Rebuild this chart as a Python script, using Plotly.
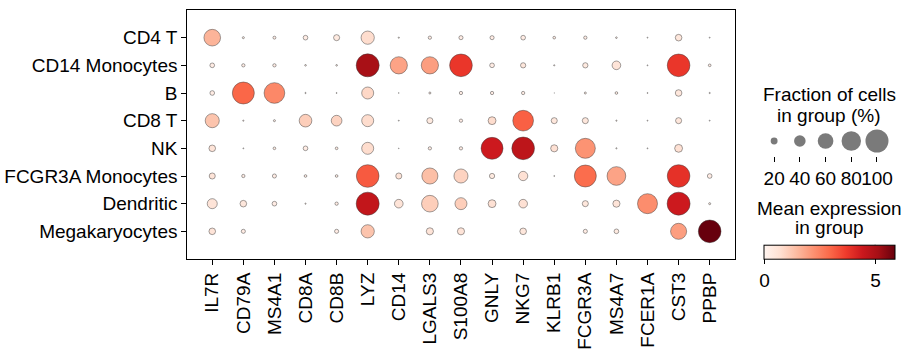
import plotly.graph_objects as go

groups = ["CD4 T", "CD14 Monocytes", "B", "CD8 T", "NK",
          "FCGR3A Monocytes", "Dendritic", "Megakaryocytes"]
genes = ["IL7R", "CD79A", "MS4A1", "CD8A", "CD8B", "LYZ", "CD14", "LGALS3",
         "S100A8", "GNLY", "NKG7", "KLRB1", "FCGR3A", "MS4A7", "FCER1A", "CST3", "PPBP"]

# fraction of cells expressing (%) per group x gene
frac_pct = [
    [65, 4, 6.5, 12, 17, 48, 2, 7.5, 10, 10, 12, 5.7, 7.5, 3, 1.5, 19, 1.5],
    [12, 7.5, 7.5, 3, 3, 100, 68, 68, 98, 12, 14, 2, 14, 27, 1.5, 98, 5.7],
    [12, 94, 87, 2, 1.5, 42, 1, 4, 7.5, 7.5, 7.5, 0.5, 4, 5.7, 1.5, 19, 2],
    [52, 2, 4, 45, 36, 42, 1.5, 17, 7.5, 24, 87, 17, 17, 2, 1.5, 17, 1.5],
    [19, 1.5, 5.7, 12, 5.7, 42, 1, 7.5, 7.5, 94, 98, 21, 83, 2, 1.5, 24, 0],
    [17, 7.5, 10, 5.7, 5.7, 98, 17, 62, 52, 14, 30, 1.5, 94, 76, 0, 98, 12],
    [33, 19, 12, 2, 7.5, 100, 27, 65, 42, 24, 27, 0, 17, 21, 83, 100, 4],
    [19, 10, 0, 0, 10, 48, 0, 21, 21, 0, 19, 0, 10, 12, 0, 62, 98],
]

# mean expression in group
mean_expr = [
    [1.6, 0.3, 0.3, 0.3, 0.4, 0.8, 0.3, 0.3, 0.3, 0.3, 0.3, 0.3, 0.3, 0.3, 0.3, 0.5, 0.3],
    [0.3, 0.3, 0.3, 0.3, 0.3, 5.1, 1.9, 2.0, 3.8, 0.3, 0.5, 0.3, 0.4, 0.6, 0.3, 3.8, 0.3],
    [0.3, 3.0, 2.4, 0.3, 0.3, 0.9, 0.3, 0.3, 0.3, 0.3, 0.3, 0.3, 0.3, 0.3, 0.3, 0.5, 0.3],
    [1.3, 0.3, 0.3, 1.1, 1.0, 0.8, 0.3, 0.4, 0.3, 0.8, 3.1, 0.5, 0.5, 0.3, 0.3, 0.5, 0.3],
    [0.6, 0.3, 0.3, 0.3, 0.3, 0.8, 0.3, 0.3, 0.3, 4.4, 4.7, 0.7, 2.2, 0.3, 0.3, 0.7, 0.3],
    [0.6, 0.3, 0.3, 0.3, 0.3, 3.2, 0.6, 1.4, 1.0, 0.4, 0.7, 0.3, 2.9, 1.9, 0.3, 3.9, 0.3],
    [0.6, 0.5, 0.3, 0.3, 0.3, 4.6, 0.6, 1.1, 1.1, 0.7, 0.7, 0.3, 0.5, 0.6, 2.3, 4.4, 0.3],
    [0.6, 0.3, 0.3, 0.3, 0.3, 1.3, 0.3, 0.6, 0.6, 0.3, 0.5, 0.3, 0.3, 0.4, 0.3, 2.0, 5.9],
]

size_legend_pct = [20, 40, 60, 80, 100]
color_ticks = [0, 5]
CMIN, CMAX = 0, 5.9

W, H = 907, 355
DMAX = 23
FS = 19
FONT = "Liberation Sans, Arial, sans-serif"


def dia(p):
    return DMAX * (p / 100.0) ** 0.75


xs, ys, sz, col = [], [], [], []
for i, g in enumerate(groups):
    for j, gene in enumerate(genes):
        f = frac_pct[i][j]
        if f <= 0:
            continue
        xs.append(j)
        ys.append(i)
        sz.append(dia(f))
        col.append(mean_expr[i][j])

fig = go.Figure()
fig.add_trace(go.Scatter(
    x=xs, y=ys, mode="markers", xaxis="x", yaxis="y",
    marker=dict(size=sz, color=col, colorscale="Reds", cmin=CMIN, cmax=CMAX,
                line=dict(color="rgba(60,60,60,0.8)", width=0.6), opacity=1,
                showscale=True,
                colorbar=dict(orientation="h", x=767 / W, xanchor="left",
                              y=1 - 292 / H, yanchor="bottom",
                              len=131, lenmode="pixels", thickness=14,
                              thicknessmode="pixels", outlinewidth=1,
                              outlinecolor="black", tickvals=color_ticks,
                              ticks="outside", ticklen=5, tickcolor="black",
                              tickfont=dict(size=FS, color="black", family=FONT),
                              xpad=0, ypad=0)),
    hoverinfo="skip", showlegend=False))

# size legend
fig.add_trace(go.Scatter(
    x=list(range(len(size_legend_pct))), y=[0.5] * len(size_legend_pct),
    xaxis="x2", yaxis="y2", mode="markers",
    marker=dict(size=[dia(p) for p in size_legend_pct], color="#7a7a7a",
                opacity=1, line=dict(width=0)),
    hoverinfo="skip", showlegend=False))

sx0 = 776.7 - 0.5 * 25.8
sx1 = 776.7 + 4.5 * 25.8

fig.update_layout(
    width=W, height=H, margin=dict(l=0, r=0, t=0, b=0),
    paper_bgcolor="white", plot_bgcolor="white",
    font=dict(family=FONT, size=FS, color="black"),
    xaxis=dict(domain=[188 / W, 737 / W], range=[-0.8, len(genes) - 1 + 0.8],
               tickvals=list(range(len(genes))), ticktext=genes, tickangle=-90,
               showline=True, mirror=True, linecolor="black", linewidth=1.2,
               ticks="outside", ticklen=5, tickwidth=1.2, tickcolor="black",
               showgrid=False, zeroline=False, tickfont=dict(size=FS)),
    yaxis=dict(domain=[1 - 259 / H, 1 - 10 / H], range=[len(groups), -1],
               tickvals=list(range(len(groups))), ticktext=groups,
               showline=True, mirror=True, linecolor="black", linewidth=1.2,
               ticks="outside", ticklen=5, tickwidth=1.2, tickcolor="black",
               showgrid=False, zeroline=False, tickfont=dict(size=FS)),
    xaxis2=dict(domain=[sx0 / W, sx1 / W], range=[-0.5, 4.5], anchor="y2",
                tickvals=list(range(len(size_legend_pct))),
                ticktext=[str(p) for p in size_legend_pct], tickangle=0,
                ticks="outside", ticklen=5, tickwidth=1, tickcolor="black",
                showline=False, showgrid=False, zeroline=False,
                tickfont=dict(size=FS)),
    yaxis2=dict(domain=[1 - 156 / H, 1 - 126 / H], range=[0, 1], anchor="x2",
                visible=False),
)

cx = 832 / W
for txt, yy in [("Fraction of cells", 95), ("in group (%)", 115),
                ("Mean expression", 208), ("in group", 227)]:
    fig.add_annotation(x=cx, y=1 - yy / H, xref="paper", yref="paper",
                       text=txt, showarrow=False, xanchor="center",
                       yanchor="middle", font=dict(size=FS, color="black"))

x5 = (767 + (5 - CMIN) / (CMAX - CMIN) * 131) / W
fig.add_shape(type="line", xref="paper", yref="paper", x0=x5, x1=x5,
              y0=1 - 258 / H, y1=1 - 244 / H,
              line=dict(color="#cccccc", width=1))

fig.write_html("out.html", config={"displayModeBar": False},
               post_script="document.body.style.margin='0px';")
